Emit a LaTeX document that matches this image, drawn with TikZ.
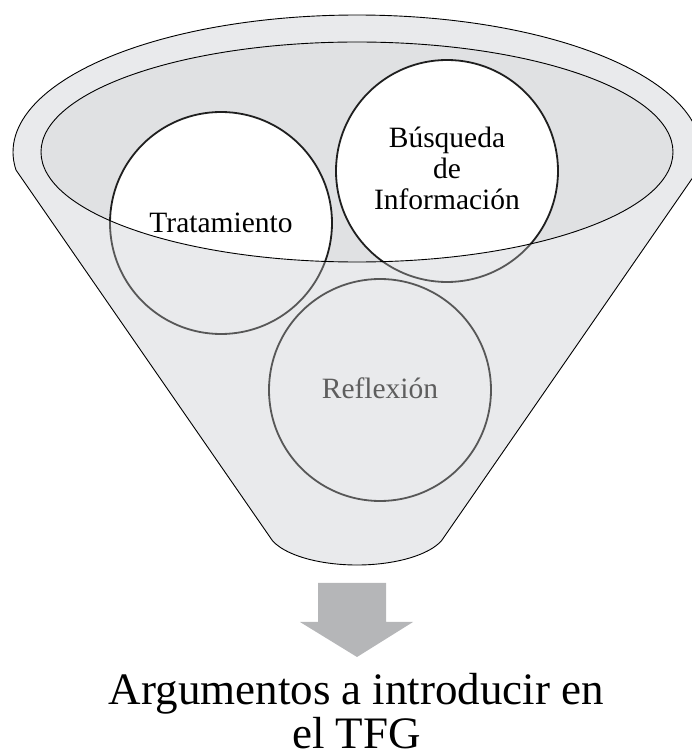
\documentclass[tikz,border=0pt]{standalone}
\usepackage{fontspec}
\setmainfont{Liberation Serif}
\usetikzlibrary{calc}
\definecolor{ringgray}{HTML}{E9EAEC}
\definecolor{innergray}{HTML}{E0E1E3}
\definecolor{arrowgray}{HTML}{B5B6B8}
\definecolor{backline}{HTML}{575757}
\definecolor{textgray}{HTML}{5E5E5E}
\begin{document}
\begin{tikzpicture}[x=1pt,y=1pt,
  funnelline/.style={draw=black, line width=0.9pt},
  circlefront/.style={draw=black!88, line width=1.8pt, fill=white},
  circleback/.style={draw=backline, line width=1.8pt},
  circtext/.style={font=\fontsize{29.5}{31}\selectfont, inner sep=0pt, anchor=base},
  outtext/.style={font=\fontsize{45}{49}\selectfont, inner sep=0pt, anchor=base}]
\useasboundingbox (0,0) rectangle (692,756);
\coordinate (fc) at (357,604);
\coordinate (bc) at (357,228);
\coordinate (ct) at (221,533);
\coordinate (cb) at (447,585);
\coordinate (cr) at (380,366);
% funnel body
\path[funnelline, fill=ringgray]
  ($(fc)+(187.6:344 and 137)$) -- ($(bc)+(200:90 and 37)$)
  arc[start angle=200, end angle=340, x radius=90, y radius=37]
  -- ($(fc)+(-7.6:344 and 137)$)
  arc[start angle=-7.6, end angle=187.6, x radius=344, y radius=137] -- cycle;
% opening
\fill[innergray] (fc) ellipse[x radius=316, y radius=110];
% circles inside the opening
\begin{scope}
  \clip (fc) ellipse[x radius=316, y radius=110];
  \draw[circlefront] (ct) circle[radius=111];
  \draw[circlefront] (cb) circle[radius=111];
\end{scope}
% circles behind the funnel body
\begin{scope}[even odd rule]
  \clip (-10,-10) rectangle (710,770) (fc) ellipse[x radius=316, y radius=110];
  \draw[circleback] (ct) circle[radius=111];
  \draw[circleback] (cb) circle[radius=111];
  \draw[circleback] (cr) circle[radius=111];
\end{scope}
\draw[funnelline] (fc) ellipse[x radius=316, y radius=110];
% texts
\node[circtext] (trat) at (221,523) {Tratamiento};
\node[circtext] (bus1) at (447,608) {Búsqueda};
\node[circtext] (bus2) at (447,577) {de};
\node[circtext] (bus3) at (447,546) {Información};
\node[circtext, text=textgray] (refl) at (380,357) {Reflexión};
% arrow
\fill[arrowgray] (318,173) -- (386,173) -- (386,134) -- (413,134) -- (357,99)
  -- (300,134) -- (318,134) -- cycle;
\node[outtext] (out1) at (356.5,51) {Argumentos a introducir en};
\node[outtext] (out2) at (356.5,8) {el TFG};
\end{tikzpicture}
\end{document}
